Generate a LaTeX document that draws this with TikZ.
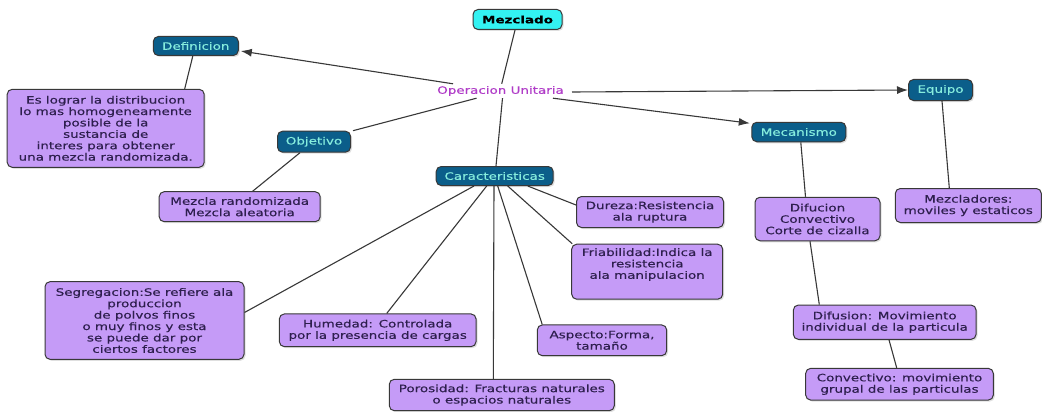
\documentclass[tikz,border=0pt]{standalone}
\usepackage{fontspec}
\setmainfont{DejaVu Sans}[FakeStretch=1.32, FakeBold=0.35]
\usetikzlibrary{arrows.meta,shadows}
\definecolor{cyanbox}{HTML}{33F2F2}
\definecolor{bluebox}{HTML}{0B5E8A}
\definecolor{bluetxt}{HTML}{86EDDD}
\definecolor{purp}{HTML}{C59BF7}
\definecolor{leaftxt}{HTML}{2E1F4E}
\definecolor{opcol}{HTML}{B03CC8}
\definecolor{edgecol}{HTML}{383838}
\tikzset{
  basebox/.style={rounded corners=5pt, draw=edgecol, line width=1pt, align=center, inner sep=1pt,
    font=\fontsize{10.2}{11.4}\selectfont,
    drop shadow={shadow xshift=1.5pt, shadow yshift=-1.5pt, opacity=0.25}},
  topbox/.style={basebox, fill=cyanbox, text=black, font=\bfseries\fontsize{10.2}{11.4}\selectfont},
  conbox/.style={basebox, fill=bluebox, text=bluetxt},
  leafbox/.style={basebox, fill=purp, text=leaftxt},
  link/.style={draw=edgecol, line width=1.1pt},
  arrlink/.style={link, -{Latex[length=11pt,width=8pt]}},
}
\begin{document}
\begin{tikzpicture}[x=1pt,y=-1pt]
\useasboundingbox (0,0) rectangle (1042,412);
\fill[white] (0,0) rectangle (1042,412);

\node[topbox, minimum width=89pt, minimum height=20pt] (mez) at (517.5,19.5) {Mezclado};
\node[text=opcol, inner sep=0pt, minimum width=125pt, minimum height=14pt,
      font=\fontsize{10.2}{11.4}\selectfont] (op) at (500.5,91) {Operacion Unitaria};

\node[conbox, minimum width=85pt, minimum height=19pt] (def) at (195.8,46) {Definicion};
\node[conbox, minimum width=64pt, minimum height=21pt] (equ) at (940.5,90) {Equipo};
\node[conbox, minimum width=94pt, minimum height=19.5pt] (mec) at (798.8,132) {Mecanismo};
\node[conbox, minimum width=73pt, minimum height=21pt] (obj) at (314,141.7) {Objetivo};
\node[conbox, minimum width=117pt, minimum height=19pt] (car) at (494.7,176) {Caracteristicas};

\node[leafbox, minimum width=197pt, minimum height=78pt] (defbox) at (105.7,128.3)
  {Es lograr la distribucion\\lo mas homogeneamente\\posible de la\\sustancia de\\interes para obtener\\una mezcla randomizada.};
\node[leafbox, minimum width=161pt, minimum height=30pt] (mr) at (239.7,206.7)
  {Mezcla randomizada\\Mezcla aleatoria};
\node[leafbox, minimum width=147pt, minimum height=31pt] (dur) at (650,212)
  {Dureza:Resistencia\\ala ruptura};
\node[leafbox, minimum width=151pt, minimum height=55pt] (fri) at (647.2,271.7)
  {Friabilidad:Indica la\\resistencia\\ala manipulacion\\[5pt]};
\node[leafbox, minimum width=125pt, minimum height=43.5pt] (dif) at (817.5,219)
  {Difucion\\Convectivo\\Corte de cizalla};
\node[leafbox, minimum width=146pt, minimum height=34pt] (mzc) at (968.3,205.5)
  {Mezcladores:\\moviles y estaticos};
\node[leafbox, minimum width=199pt, minimum height=77.6pt] (seg) at (144.5,320.5)
  {Segregacion:Se refiere ala\\produccion\\de polvos finos\\o muy finos y esta\\se puede dar por\\ciertos factores};
\node[leafbox, minimum width=196.7pt, minimum height=32.7pt] (hum) at (377.7,330.3)
  {Humedad: Controlada\\por la presencia de cargas};
\node[leafbox, minimum width=129.4pt, minimum height=30.7pt] (asp) at (602,340.3)
  {Aspecto:Forma,\\tamaño};
\node[leafbox, minimum width=225pt, minimum height=31.4pt] (por) at (501.8,395)
  {Porosidad: Fracturas naturales\\o espacios naturales};
\node[leafbox, minimum width=182.7pt, minimum height=34.3pt] (dfs) at (884.7,322.2)
  {Difusion: Movimiento\\individual de la particula};
\node[leafbox, minimum width=187.6pt, minimum height=31.7pt] (cnv) at (899.5,384.2)
  {Convectivo: movimiento\\grupal de las particulas};

% connectors
\draw[link] ([xshift=-2.5pt]mez.south) -- ([xshift=1.2pt]op.north);
\draw[arrlink] ([xshift=16pt]op.north west) -- ([xshift=2pt,yshift=-5pt]def.east);
\draw[link] ([xshift=-24pt]op.south) -- ([xshift=2pt]obj.north east);
\draw[link] ([xshift=2pt]op.south) -- ([xshift=1.3pt]car.north);
\draw[arrlink] ([xshift=8pt,yshift=-1pt]op.east) -- (equ.west);
\draw[arrlink] ([xshift=52.5pt]op.south) -- ([xshift=-1.5pt,yshift=-1.5pt]mec.north west);

\draw[link] ([xshift=-3pt]def.south) -- ([xshift=79pt]defbox.north);
\draw[link] ([xshift=-14pt]obj.south) -- ([xshift=13pt]mr.north);
\draw[link] ([xshift=2pt]mec.south) -- ([xshift=-12pt]dif.north);
\draw[link] ([xshift=1.5pt]equ.south) -- ([xshift=-19pt]mzc.north);
\draw[link] ([xshift=-7.5pt]dif.south) -- ([xshift=-65.4pt]dfs.north);
\draw[link] ([xshift=4.3pt]dfs.south) -- ([xshift=-2.8pt]cnv.north);

\draw[link] ([xshift=-20.7pt]car.south) -- ([yshift=8pt]seg.east);
\draw[link] ([xshift=-8pt]car.south) -- ([xshift=9pt]hum.north);
\draw[link] ([xshift=-0.7pt]car.south) -- ([xshift=-8.5pt]por.north);
\draw[link] ([xshift=3pt]car.south) -- ([xshift=5.4pt]asp.north west);
\draw[link] ([xshift=13pt]car.south) -- ([xshift=1pt]fri.north west);
\draw[link] ([xshift=33pt]car.south) -- ([yshift=7pt]dur.west);
\end{tikzpicture}
\end{document}
